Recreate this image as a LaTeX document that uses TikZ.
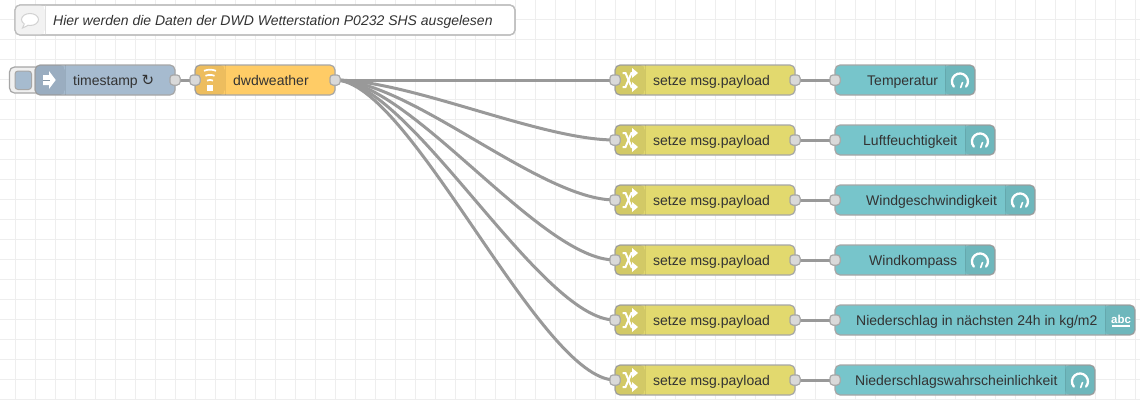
\documentclass[tikz,border=0pt]{standalone}
\usepackage{fontspec}
\usetikzlibrary{calc}
\setmainfont{Liberation Sans}
\newfontfamily\djv{DejaVu Sans}
\definecolor{gridc}{HTML}{EEEEEE}
\definecolor{wirec}{HTML}{999999}
\definecolor{borderc}{HTML}{A6A6A6}
\definecolor{commentc}{HTML}{BDBDBD}
\definecolor{portc}{HTML}{D9D9D9}
\definecolor{txtc}{HTML}{333333}
\definecolor{injectc}{HTML}{A6BBCF}
\definecolor{weatherc}{HTML}{FFCC66}
\definecolor{switchc}{HTML}{E2D96E}
\definecolor{dashc}{HTML}{77C5CB}
\tikzset{
  x=1pt,y=-1pt,
  flowbox/.style={draw=borderc,line width=1.2pt,rounded corners=5pt,minimum height=30pt,inner sep=0pt,outer sep=0pt},
  flowport/.style={draw=borderc,fill=portc,line width=1pt,rounded corners=3pt,minimum width=10pt,minimum height=10pt,inner sep=0pt,outer sep=0pt},
  flowtext/.style={anchor=base west,inner sep=0pt,text=txtc,font=\fontsize{14}{16}\selectfont},
  wire/.style={draw=wirec,line width=3pt},
  iconline/.style={draw=white,line width=2.3pt,line cap=round},
  bandline/.style={draw=black,draw opacity=0.08,line width=1pt},
}
% name, left, right, centre y, colour
\newcommand{\flowbox}[5]{%
  \node[flowbox,fill=#5,minimum width=#3pt-#2pt,anchor=west] (#1) at (#2,#4) {};}
% band from x1 to x2 around centre y
\newcommand{\flowband}[3]{%
  \begin{scope}
    \clip[rounded corners=5pt] (#1,#3-15) rectangle (#2,#3+15);
    \fill[black,opacity=0.07] (#1,#3-15) rectangle (#2,#3+15);
  \end{scope}}
\newcommand{\gaugeicon}[2]{%
  \draw[iconline] (#1-6.2,#2+6.6) arc[start angle=220,end angle=-40,radius=8pt];
  \draw[draw=white,line width=1.6pt,line cap=round] (#1+0.7,#2+7.5) -- (#1+2.5,#2+2.5);}
\newcommand{\switchicon}[2]{%
  \draw[draw=white,line width=2pt] (#1-7.5,#2-7) -- (#1-4.5,#2-7) -- (#1+1.5,#2+7) -- (#1+3,#2+7);
  \draw[draw=white,line width=2pt] (#1-7.5,#2+7) -- (#1-4.5,#2+7) -- (#1+1.5,#2-7) -- (#1+3,#2-7);
  \fill[white] (#1+2,#2-12) -- (#1+8,#2-7) -- (#1+2,#2-2) -- cycle;
  \fill[white] (#1+2,#2+2) -- (#1+8,#2+7) -- (#1+2,#2+12) -- cycle;}
\begin{document}
\begin{tikzpicture}
\useasboundingbox (0,0) rectangle (1140,400);
\fill[white] (0,0) rectangle (1140,400);
% grid
\foreach \gx in {15,35,...,1135} \draw[gridc,line width=0.8pt] (\gx,0) -- (\gx,400);
\foreach \gy in {-0.5,19.5,...,399.5} \draw[gridc,line width=0.8pt] (0,\gy) -- (1140,\gy);

% comment
\node[flowbox,draw=commentc,fill=white,minimum width=500pt,anchor=west] (comment) at (15,20) {};
\begin{scope}
  \clip[rounded corners=5pt] (15,5) rectangle (45,35);
  \fill[black!5] (15,5) rectangle (45,35);
\end{scope}
\draw[black!12,line width=0.7pt] (45,5) -- (45,35);
\draw[draw=commentc,line width=1.2pt,rounded corners=5pt] (15,5) rectangle (515,35);
\draw[draw=black!18,fill=white,line width=1pt] (30,19.5) ellipse[x radius=8.5pt,y radius=6pt];
\fill[white] (24,23) -- (22.5,28) -- (29,25) -- cycle;
\draw[black!18,line width=1pt] (24.5,23.5) -- (22.5,28) -- (28.5,25.2);
\node[flowtext,font=\fontsize{14}{16}\selectfont\itshape] (commenttext) at (53,25) {Hier werden die Daten der DWD Wetterstation P0232 SHS ausgelesen};

% inject button
\draw[draw=borderc,fill=black!6,line width=1.2pt,rounded corners=5pt] (9.5,67) rectangle (40,93);
\draw[draw=borderc,fill=injectc,line width=1pt,rounded corners=3pt] (15,71) rectangle (31.5,89.5);

% inject
\flowbox{inject}{35}{175}{80}{injectc}
\flowband{35}{65}{80}
\draw[bandline] (65,65) -- (65,95);
\fill[white] (43,75) -- (49,75) -- (49,71) -- (55.7,80) -- (49,89) -- (49,85) -- (43,85) -- cycle;
\draw[injectc!80!black,line width=1pt] (43,80) -- (50,80);
\node[flowtext] (injecttext) at (73,85) {timestamp {\djv\fontsize{15}{16}\selectfont ↻}};
\node[flowport] (injectout) at (175,80) {};

% dwdweather
\flowbox{dwd}{195}{335}{80}{weatherc}
\flowband{195}{225}{80}
\draw[bandline] (225,65) -- (225,95);
\fill[white] (207.3,85) rectangle (212.7,91);
\draw[draw=white,line width=1.7pt] (207,80.6) .. controls (209,79.6) and (211,79.6) .. (213,80.6);
\draw[draw=white,line width=1.7pt] (205.5,75.8) .. controls (208,74.6) and (212,74.6) .. (214.5,75.8);
\draw[draw=white,line width=1.7pt] (204,70.8) .. controls (208,69.3) and (212,69.3) .. (216,70.8);
\node[flowtext] (dwdtext) at (233,85) {dwdweather};
\node[flowport] (dwdin) at (195,80) {};
\node[flowport] (dwdout) at (335,80) {};

% rows: index/y
\foreach \n/\yy in {1/80,2/140,3/200,4/260,5/320,6/380}{
  \flowbox{sw\n}{615}{795}{\yy}{switchc}
  \flowband{615}{645}{\yy}
  \draw[bandline] (645,\yy-15) -- (645,\yy+15);
  \switchicon{630}{\yy}
  \node[flowtext] (swtext\n) at (653,\yy+5) {setze msg.payload};
  \node[flowport] (swin\n) at (615,\yy) {};
  \node[flowport] (swout\n) at (795,\yy) {};
}

% dashboard nodes: index/right/y/textx/text
\foreach \n/\rr/\yy/\tx/\lab in {
  1/975/80/867/{Temperatur},
  2/995/140/863/{Luftfeuchtigkeit},
  3/1035/200/866/{Windgeschwindigkeit},
  4/995/260/869/{Windkompass},
  5/1135/320/856/{Niederschlag in nächsten 24h in kg/m2},
  6/1095/380/855/{Niederschlagswahrscheinlichkeit}}{
  \flowbox{ui\n}{835}{\rr}{\yy}{dashc}
  \flowband{\rr-30}{\rr}{\yy}
  \draw[bandline] (\rr-30,\yy-15) -- (\rr-30,\yy+15);
  \node[flowtext] (uitext\n) at (\tx,\yy+5) {\lab};
  \node[flowport] (uiin\n) at (835,\yy) {};
}
\gaugeicon{960}{80}
\gaugeicon{980}{140}
\gaugeicon{1020}{200}
\gaugeicon{980}{260}
\gaugeicon{1080}{380}
\node[inner sep=0pt,text=white,font=\fontsize{11.5}{12}\selectfont\bfseries] (abcicon) at (1121,319.5) {abc};
\draw[white,line width=1.5pt] (1112,326) -- (1130,326);

% wires
\draw[wire] (injectout) -- (dwdin);
\foreach \n/\yy in {1/80,2/140,3/200,4/260,5/320,6/380}{
  \draw[wire] (dwdout.center) .. controls ($(dwdout.center)+(75,0)$) and ($(swin\n.center)+(-75,0)$) .. (swin\n.center);
  \draw[wire] (swout\n) -- (uiin\n);
}
% ports over wires
\node[flowport] at (injectout) {};
\node[flowport] at (dwdin) {};
\node[flowport] at (dwdout) {};
\foreach \n in {1,...,6}{
  \node[flowport] at (swin\n) {};
  \node[flowport] at (swout\n) {};
  \node[flowport] at (uiin\n) {};
}
\end{tikzpicture}
\end{document}
